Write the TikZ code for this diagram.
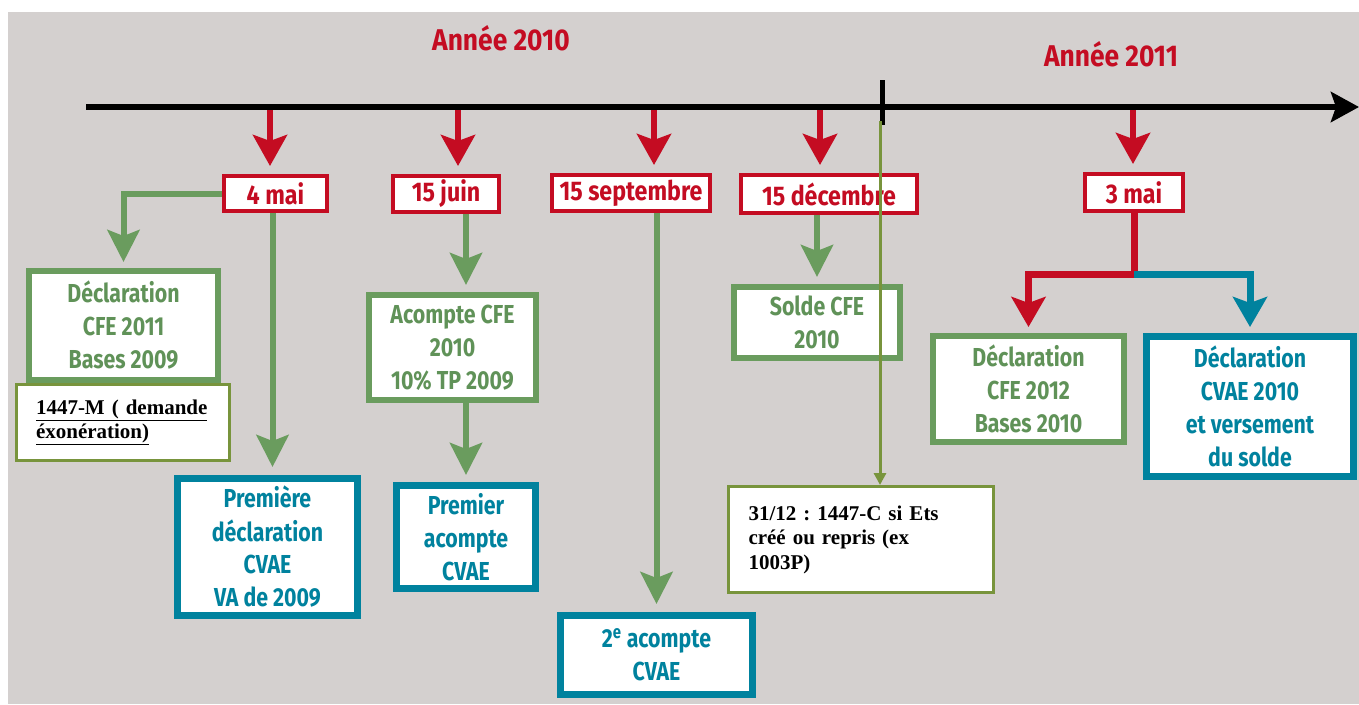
\documentclass[tikz,border=0pt]{standalone}
\usepackage{fontspec}
\setmainfont{Liberation Serif}
\newfontfamily\cond[FakeStretch=0.82]{Fira Sans}
\newfontfamily\condd[FakeStretch=0.86]{Fira Sans}
\newfontfamily\condt[FakeStretch=0.88]{Fira Sans}
\usetikzlibrary{arrows.meta}
\definecolor{bg}{RGB}{212,208,207}
\definecolor{myred}{RGB}{196,12,34}
\definecolor{mygreen}{RGB}{106,156,94}
\definecolor{gtext}{RGB}{96,146,88}
\definecolor{myblue}{RGB}{0,130,158}
\definecolor{olive}{RGB}{120,148,60}
\tikzset{
  datebox/.style={draw=myred, line width=4pt, fill=white, inner sep=0pt, text=myred,
    font=\condd\bfseries\fontsize{27}{30}\selectfont},
  gbox/.style={draw=mygreen, line width=6pt, fill=white, inner sep=0pt, align=center, text=gtext,
    font=\cond\bfseries\fontsize{26}{33}\selectfont},
  bbox/.style={draw=myblue, line width=7pt, fill=white, inner sep=0pt, align=center, text=myblue,
    font=\cond\bfseries\fontsize{26}{33}\selectfont},
  obox/.style={draw=olive, line width=3pt, fill=white, inner sep=0pt, align=left, text=black,
    font=\frenchspacing\bfseries\fontsize{21}{24.5}\selectfont},
  title/.style={text=myred, font=\condt\bfseries\fontsize{30}{33}\selectfont},
  redarr/.style={draw=myred, line width=6pt, -{Stealth[length=31pt,width=34pt,inset=6pt]}},
  redln/.style={draw=myred, line width=7pt},
  redarrb/.style={draw=myred, line width=7pt, line join=miter, -{Stealth[length=30pt,width=34pt,inset=6pt]}},
  bluearr/.style={draw=myblue, line width=7pt, line join=miter, -{Stealth[length=30pt,width=34pt,inset=6pt]}},
  grarr/.style={draw=mygreen, line width=6pt, line join=miter, -{Stealth[length=32pt,width=32pt,inset=6pt]}},
  olarr/.style={draw=olive, line width=3pt, -{Triangle[length=12pt,width=12pt]}},
  timeline/.style={draw=black, line width=6.5pt, -{Stealth[length=28pt,width=30pt,inset=5pt]}},
}
\begin{document}
\begin{tikzpicture}[x=1pt,y=-1pt]
\useasboundingbox (0,0) rectangle (1359,704);
\fill[white] (0,0) rectangle (1359,704);
\fill[bg] (8,12) rectangle (1359,704);

% titles
\node[title] (y2010) at (501,38) {Année 2010};
\node[title] (y2011) at (1111,54) {Année 2011};

% timeline
\coordinate (tlstart) at (86,107);
\coordinate (tlend) at (1359,107);
\draw[timeline] (tlstart) -- (tlend);
\coordinate (tickt) at (882,80);
\coordinate (tickb) at (882,125);
\draw[line width=5pt] (tickt) -- (tickb);

\coordinate (e1) at (270,110);
\coordinate (e2) at (458,110);
\coordinate (e3) at (654,110);
\coordinate (e4) at (820,110);
\coordinate (e5) at (1133,110);

% date boxes
\node[datebox, minimum width=103pt, minimum height=35pt] (d4mai) at (275.5,193.5) {4 mai};
\node[datebox, minimum width=106pt, minimum height=36pt] (d15juin) at (446,194) {15 juin};
\node[datebox, minimum width=158pt, minimum height=36pt] (d15sept) at (631,193) {15 septembre};
\node[datebox, minimum width=176pt, minimum height=38pt] (d15dec) at (829,194) {15 décembre};
\node[datebox, minimum width=98pt, minimum height=37pt] (d3mai) at (1134,192.5) {3 mai};

% green boxes
\node[gbox, minimum width=189pt, minimum height=109pt] (decl2011) at (123.5,325.5) {Déclaration\\CFE 2011\\Bases 2009};
\node[gbox, minimum width=167pt, minimum height=105pt] (acompteCFE) at (452.5,347.5) {Acompte CFE\\2010\\10\% TP 2009};
\node[gbox, minimum width=166pt, minimum height=71pt] (soldeCFE) at (817,322.5) {Solde CFE\\2010};
\node[gbox, minimum width=191pt, minimum height=106pt] (decl2012) at (1028.5,389) {Déclaration\\CFE 2012\\Bases 2010};

% blue boxes
\node[bbox, minimum width=180pt, minimum height=137pt] (premDecl) at (267.5,547) {Première\\déclaration\\CVAE\\VA de 2009};
\node[bbox, minimum width=139pt, minimum height=103pt] (premAcompte) at (466,537) {Premier\\acompte\\CVAE};
\node[bbox, minimum width=192pt, minimum height=79pt] (deuxAcompte) at (656.5,655) {2\textsuperscript{e} acompte\\CVAE};
\node[bbox, minimum width=207pt, minimum height=140pt] (declCVAE) at (1250,406.5) {Déclaration\\CVAE 2010\\et versement\\du solde};

% olive boxes
\node[obox, minimum width=213pt, minimum height=76pt, text width=174pt] (m1447) at (123,422.5) {\underline{1447-M ( demande}\\\underline{éxonération)}};
\node[obox, minimum width=265pt, minimum height=106pt, text width=225pt] (c1447) at (861,539.5) {31/12 : 1447-C si Ets\\créé ou repris (ex\\1003P)};

% red arrows from timeline
\draw[redarr, shorten >=8pt] (e1) -- (e1 |- d4mai.north);
\draw[redarr, shorten >=8pt] (e2) -- (e2 |- d15juin.north);
\draw[redarr, shorten >=8pt] (e3) -- (e3 |- d15sept.north);
\draw[redarr, shorten >=8pt] (e4) -- (e4 |- d15dec.north);
\draw[redarr, shorten >=8pt] (e5) -- (e5 |- d3mai.north);

% green connectors
\draw[grarr, shorten >=6pt] (d4mai.west) -| (decl2011.north);
\draw[grarr, shorten >=8pt] ([xshift=-3pt]d4mai.south) -- ([xshift=-3pt]d4mai.south |- premDecl.north);
\draw[grarr, shorten >=7pt] (d15juin.south -| premAcompte.north) -- (acompteCFE.north -| premAcompte.north);
\draw[grarr, shorten >=7pt] (acompteCFE.south -| premAcompte.north) -- (premAcompte.north);
\draw[grarr, shorten >=8pt] (d15sept.south -| deuxAcompte.north) -- (deuxAcompte.north);
\draw[grarr, shorten >=7pt] (d15dec.south -| soldeCFE.north) -- (soldeCFE.north);

% 3 mai split
\coordinate (split) at (1134,274);
\draw[redln] (d3mai.south) -- (split);
\draw[redarrb, shorten >=6pt] (split) -| (decl2012.north);
\draw[bluearr, shorten >=6pt] (split) -| (declCVAE.north);

% olive line
\coordinate (olstart) at (880,121);
\draw[olarr] (olstart) -- (olstart |- c1447.north);
\end{tikzpicture}
\end{document}
